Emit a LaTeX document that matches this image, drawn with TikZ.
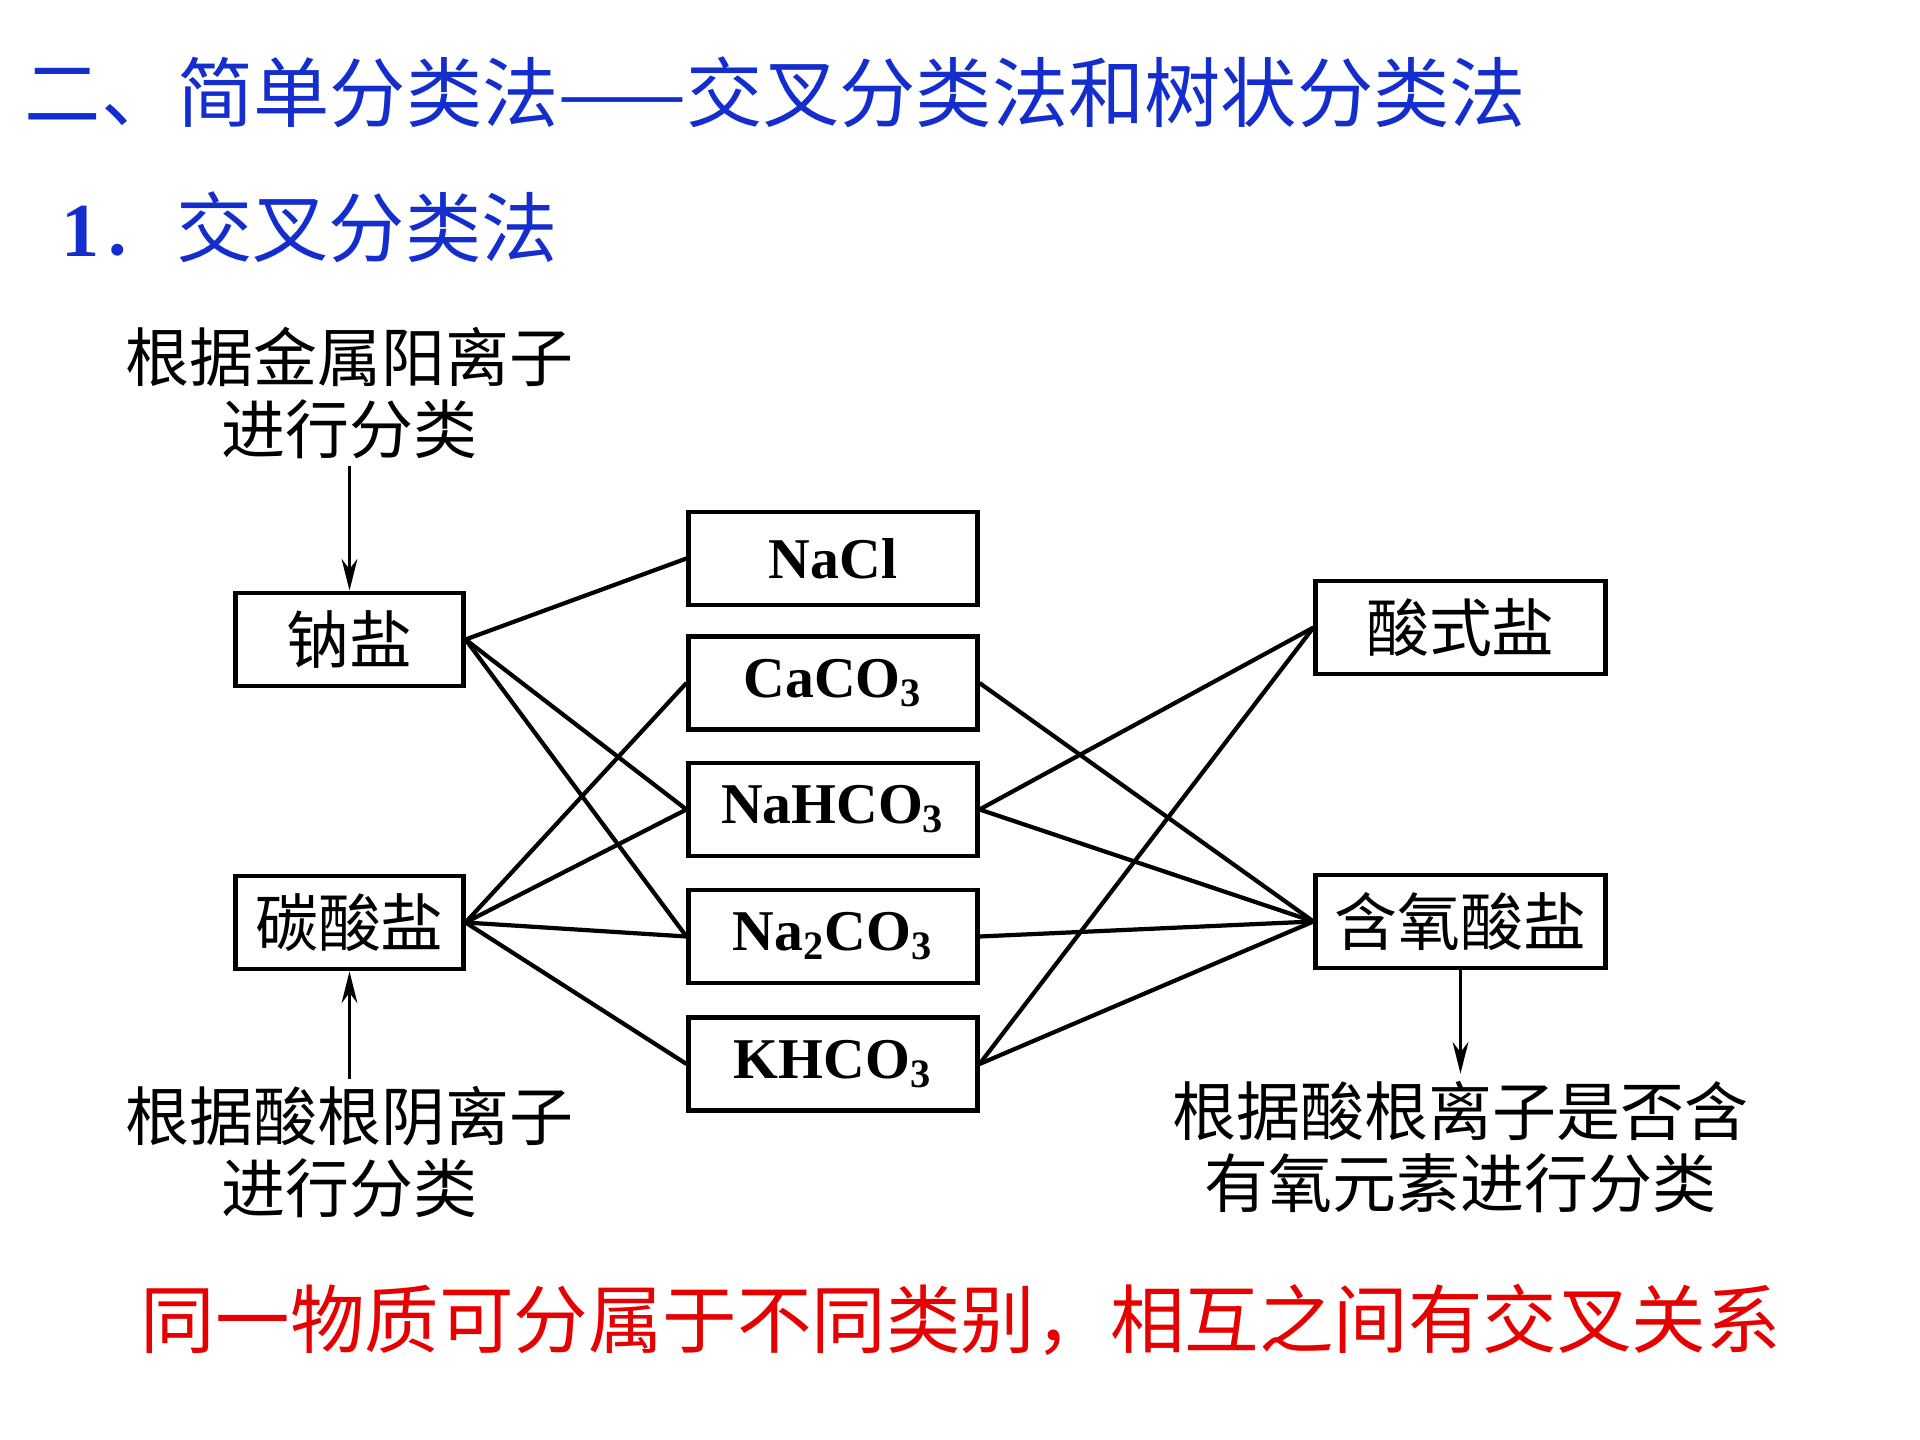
\documentclass[tikz,border=0pt]{standalone}
\usepackage{fontspec}
\setmainfont{Liberation Serif}
\newfontfamily\cjk{Noto Sans CJK SC}
\usepackage{xcolor}
\usetikzlibrary{arrows}
\usetikzlibrary{arrows.meta}
\usetikzlibrary{positioning}
\definecolor{titleblue}{RGB}{20,45,205}
\definecolor{notered}{RGB}{230,0,0}
\tikzset{
  >=stealth,
  % pixel grid of the slide, y downwards
  slide/.style={x=0.01cm, y=-0.01cm}
}

\begin{document}
\begin{tikzpicture}[
    slide,
    box/.style={rectangle, draw=black, line width=1.4pt, minimum width=#1,
               minimum height=0.93cm, inner sep=0pt,
               font=\cjk\fontsize{17.9pt}{20pt}\selectfont},
    box/.default=2.27cm,
    chem/.style={box=2.88cm, font=\rmfamily\bfseries\fontsize{16.4pt}{20pt}\selectfont},
    note/.style={align=center, inner sep=2pt, font=\cjk\fontsize{18.2pt}{20.4pt}\selectfont},
    heading/.style={anchor=west, inner sep=0pt, text=titleblue,
               font=\cjk\fontsize{21.7pt}{24pt}\selectfont},
    remark/.style={inner sep=0pt, text=notered, font=\cjk\fontsize{21.2pt}{24pt}\selectfont},
    link/.style={draw=black, line width=1.2pt},
    arrow/.style={-{Stealth[length=9pt,width=4.5pt]}, draw=black, line width=0.7pt}
]
\fill[white] (0,0) rectangle (1920,1440);
\useasboundingbox (0,0) rectangle (1920,1440);

% Headings
\node[heading] (title) at (24,92) {二、简单分类法——交叉分类法和树状分类法};
\node[heading] (subtitle) at (61,227) {\textbf{\rmfamily 1}．交叉分类法};

% Classes on the left
\node[box] (sodium) at (349.5,639.5) {钠盐};
\node[box] (carbonate) at (349.5,922.5) {碳酸盐};

% Salts
\node[chem] (nacl) at (833,558.5) {NaCl};
\node[chem] (caco) at (833,683) {CaCO\textsubscript{3}};
\node[chem] (nahco) at (833,809.5) {NaHCO\textsubscript{3}};
\node[chem] (naco) at (833,936.5) {Na\textsubscript{2}CO\textsubscript{3}};
\node[chem] (khco) at (833,1064) {KHCO\textsubscript{3}};

% Classes on the right
\node[box=2.89cm] (acidsalt) at (1460.5,627.5) {酸式盐};
\node[box=2.89cm] (oxysalt) at (1460.5,921.5) {含氧酸盐};

% Criteria
\node[note] (cationnote) at (349.5,393) {根据金属阳离子\\进行分类};
\node[note] (anionnote) at (349.5,1152) {根据酸根阴离子\\进行分类};
\node[note] (oxynote) at (1460.5,1147) {根据酸根离子是否含\\有氧元素进行分类};

\draw[arrow] (cationnote.south) -- (sodium.north);
\draw[arrow] (anionnote.north) -- (carbonate.south);
\draw[arrow] (oxysalt.south) -- (oxynote.north);

% Cross links
\foreach \salt in {nacl,nahco,naco}
  \draw[link] (sodium.east) -- (\salt.west);
\foreach \salt in {caco,nahco,naco,khco}
  \draw[link] (carbonate.east) -- (\salt.west);
\foreach \salt in {nahco,khco}
  \draw[link] (\salt.east) -- (acidsalt.west);
\foreach \salt in {caco,nahco,naco,khco}
  \draw[link] (\salt.east) -- (oxysalt.west);

% Conclusion
\node[remark] (summary) at (961,1320) {同一物质可分属于不同类别，相互之间有交叉关系};

\end{tikzpicture}
\end{document}
